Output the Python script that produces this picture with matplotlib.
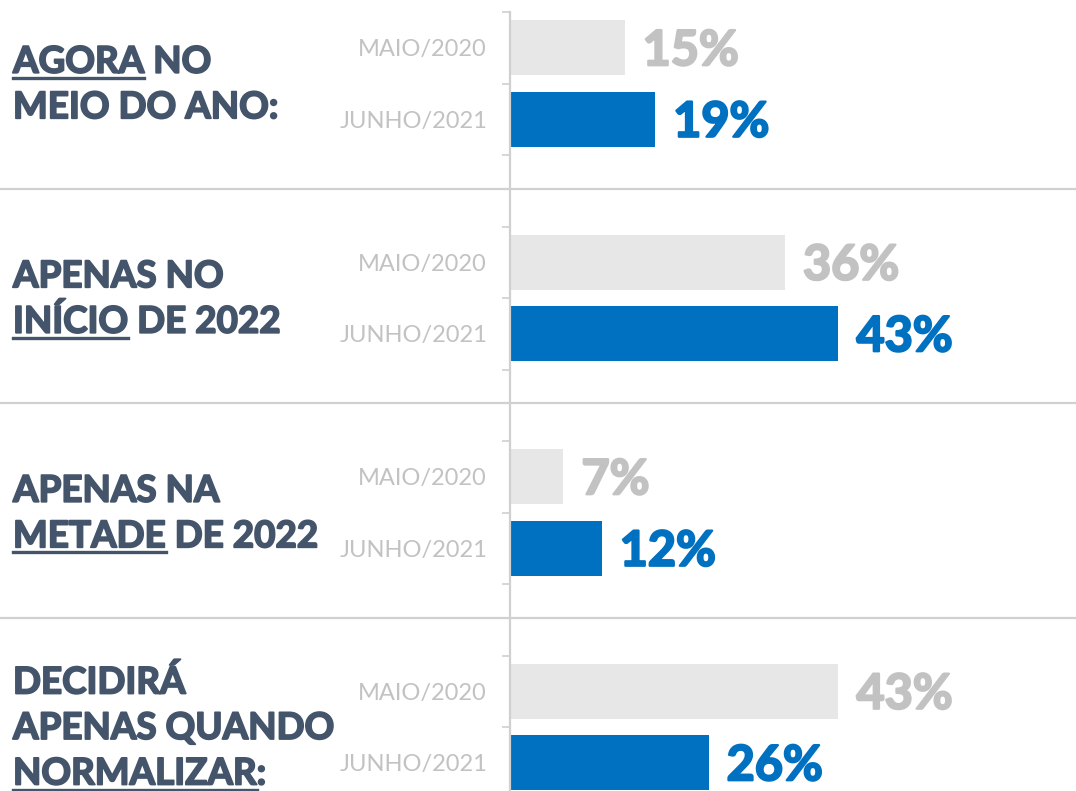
import matplotlib.pyplot as plt
from matplotlib.lines import Line2D
from matplotlib import transforms
import matplotlib.patheffects as pe

plt.rcParams['font.family'] = ['Lato', 'DejaVu Sans']

# data
labels = [
    [("AGORA", " NO"), ("", "MEIO DO ANO:")],
    [("", "APENAS NO"), ("INÍCIO", " DE 2022")],
    [("", "APENAS NA"), ("METADE", " DE 2022")],
    [("", "DECIDIRÁ"), ("", "APENAS QUANDO"), ("NORMALIZAR", ":")],
]
series = ["MAIO/2020", "JUNHO/2021"]
maio = [15, 36, 7, 43]
junho = [19, 43, 12, 26]

navy = "#44546a"
blue = "#0070c0"
grey_bar = "#e7e7e7"
grey_txt = "#c2c2c2"
line_c = "#d0d0d0"

W, H = 1076, 791
fig = plt.figure(figsize=(W / 100, H / 100), dpi=100)
ax = fig.add_axes([510 / W, 0, 1 - 510 / W, (H - 12) / H])

pos_m = [3 * g for g in range(4)]
pos_j = [3 * g + 1 for g in range(4)]
ax.barh(pos_m, maio, height=0.77, color=grey_bar)
ax.barh(pos_j, junho, height=0.77, color=blue)

for s in ["top", "right", "bottom"]:
    ax.spines[s].set_visible(False)
ax.spines["left"].set_color(line_c)
ax.spines["left"].set_linewidth(1.6)
ax.set_xticks([])

ax.set_yticks(pos_m + pos_j)
ax.set_yticklabels([series[0]] * 4 + [series[1]] * 4)
ax.set_yticks([i - 0.5 for i in range(12)], minor=True)
ax.tick_params(axis="y", which="major", length=0, pad=16.5,
               labelsize=17, labelcolor=grey_txt)
ax.tick_params(axis="y", which="minor", length=6, width=1.2, color=line_c)

ax.set_xlim(0, 74.1)
ax.set_ylim(10.395, -0.5)

def heavy(c, w=1.3):
    return [pe.withStroke(linewidth=w, foreground=c)]

# value labels
def val_tr(dx):
    return transforms.offset_copy(ax.transData, fig=fig, x=dx, y=-17.5, units="dots")

for p, v in zip(pos_m, maio):
    ax.text(v, p, f"{v}%", transform=val_tr(18), fontsize=35, fontweight="bold",
            color=grey_txt, va="baseline", ha="left", path_effects=heavy(grey_txt, 1.6))
for p, v in zip(pos_j, junho):
    ax.text(v, p, f"{v}%", transform=val_tr(18), fontsize=35, fontweight="bold",
            color=blue, va="baseline", ha="left", path_effects=heavy(blue, 1.6))

# separators across the figure
bt = transforms.blended_transform_factory(fig.transFigure, ax.transData)
for g in range(3):
    fig.add_artist(Line2D([0, 1], [3 * g + 1.97] * 2, transform=bt,
                          color=line_c, linewidth=1.6))

# category labels with underlined first word
renderer = fig.canvas.get_renderer()
x0 = 13 / W
spacing = 45.5
fs = 26.5
for g, lines in enumerate(labels):
    n = len(lines)
    for k, (under, rest) in enumerate(lines):
        dy = (k - (n - 1) / 2) * spacing + 12
        tr = transforms.offset_copy(bt, fig=fig, x=0, y=-dy, units="dots")
        fig.text(x0, 3 * g + 0.5, under + rest, transform=tr, fontsize=fs,
                 fontweight="bold", color=navy, va="baseline", ha="left",
                 path_effects=heavy(navy))
        if under:
            tmp = fig.text(x0, 3 * g + 0.5, under, transform=tr, fontsize=fs,
                           fontweight="bold", va="baseline", ha="left")
            bb = tmp.get_window_extent(renderer)
            tmp.remove()
            xa, ya = tr.transform((x0, 3 * g + 0.5))
            fig.add_artist(Line2D([xa, bb.x1], [ya - 5, ya - 5],
                                  transform=transforms.IdentityTransform(),
                                  color=navy, linewidth=2.4))

fig.savefig("out.png", dpi=100)
